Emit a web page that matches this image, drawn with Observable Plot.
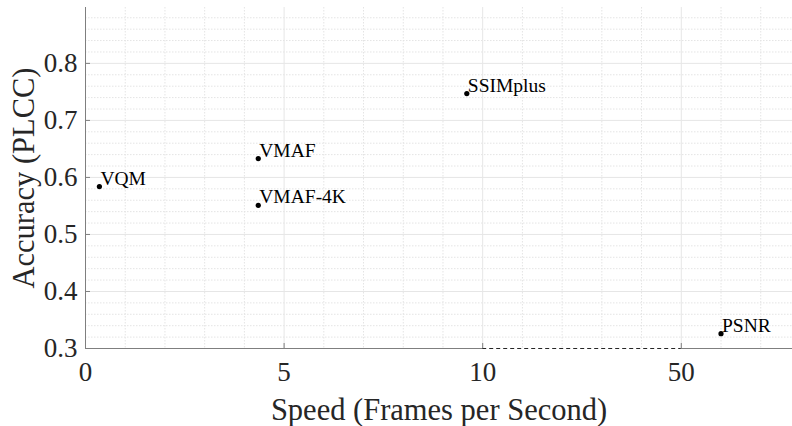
<!DOCTYPE html>
<html>
<head>
<meta charset="utf-8">
<script src="https://cdn.jsdelivr.net/npm/d3@7"></script>
<script src="https://cdn.jsdelivr.net/npm/@observablehq/plot@0.6"></script>
<style>
  html, body { margin: 0; padding: 0; background: #fff; }
  #chart svg { display: block; }
</style>
</head>
<body>
<div id="chart"></div>
<script>
// Data
const metrics  = ["VQM", "VMAF", "VMAF-4K", "SSIMplus", "PSNR"];
const speed    = [0.35, 4.35, 4.35, 9.6, 58];
const accuracy = [0.584, 0.633, 0.551, 0.747, 0.326];

const xTickValues = [0, 5, 10, 50];
const yTickValues = [0.3, 0.4, 0.5, 0.6, 0.7, 0.8];

// Broken x axis: linear up to 10, then compressed 8:1 beyond the break
const BREAK = 10, COMPRESS = 8;
const brk = v => v <= BREAK ? v : BREAK + (v - BREAK) / COMPRESS;

const points = metrics.map((m, i) => ({name: m, x: brk(speed[i]), y: accuracy[i]}));

const X_MAX = 17.8, Y_MIN = 0.3, Y_MAX = 0.898;
const majorX = xTickValues.map(brk).filter(v => v > 0);
const minorX = d3.range(1, 18).filter(v => !majorX.includes(v) && v < X_MAX);
const minorY = d3.range(0.32, 0.89, 0.02).map(v => +v.toFixed(2)).filter(v => !yTickValues.some(t => Math.abs(t - v) < 1e-6));

// Axis segments along the bottom (solid, dashed across the break, solid)
const segs = [
  {x1: 0, x2: brk(BREAK), dash: false},
  {x1: brk(BREAK), x2: brk(50), dash: true},
  {x1: brk(50), x2: X_MAX, dash: false}
];

const font = "'Liberation Serif', 'Times New Roman', serif";
const axisColor = "#7f7f7f";

const chart = Plot.plot({
  width: 792,
  height: 426,
  marginLeft: 85,
  marginRight: 0,
  marginTop: 7,
  marginBottom: 78,
  style: {fontFamily: font, color: "#262626", background: "#fff"},
  x: {domain: [0, X_MAX]},
  y: {domain: [Y_MIN, Y_MAX]},
  marks: [
    // minor grid
    Plot.ruleX(minorX, {stroke: "#e4e4e4", strokeDasharray: "1.5,1.5", strokeWidth: 1}),
    Plot.ruleY(minorY, {stroke: "#e4e4e4", strokeDasharray: "1.5,1.5", strokeWidth: 1}),
    // major grid
    Plot.ruleX(majorX, {stroke: "#e6e6e6", strokeWidth: 1}),
    Plot.ruleY(yTickValues.filter(v => v > Y_MIN), {stroke: "#e6e6e6", strokeWidth: 1}),
    // left axis line
    Plot.ruleX([0], {stroke: axisColor, strokeWidth: 1}),
    // bottom axis line with break
    Plot.ruleY(segs.filter(s => !s.dash), {x1: "x1", x2: "x2", y: Y_MIN, stroke: axisColor, strokeWidth: 1}),
    Plot.ruleY(segs.filter(s => s.dash), {x1: "x1", x2: "x2", y: Y_MIN, stroke: "#262626", strokeWidth: 1.2, strokeDasharray: "4,3"}),
    // axes
    Plot.axisY(yTickValues, {
      tickSize: -5, tickPadding: 13, fontSize: 27, stroke: axisColor,
      tickFormat: d => d.toFixed(1), label: null
    }),
    Plot.axisX(xTickValues.map(brk), {
      tickSize: -5, tickPadding: 18, fontSize: 27, stroke: axisColor,
      tickFormat: d => String(xTickValues[xTickValues.map(brk).indexOf(d)]), label: null
    }),
    // axis titles
    Plot.text(["Speed (Frames per Second)"], {frameAnchor: "bottom", dy: 62, fontSize: 30.5, fill: "#262626", textAnchor: "middle", lineAnchor: "middle"}),
    Plot.text(["Accuracy (PLCC)"], {frameAnchor: "left", dx: -61, rotate: -90, fontSize: 30.5, fill: "#262626", textAnchor: "middle", lineAnchor: "middle"}),
    // points and labels
    Plot.dot(points, {x: "x", y: "y", r: 2.6, fill: "#000", stroke: null}),
    Plot.text(points, {x: "x", y: "y", text: "name", textAnchor: "start", lineAnchor: "bottom", dx: 1, dy: -2, fontSize: 19.5, fill: "#000"})
  ]
});
document.getElementById("chart").appendChild(chart);
</script>
</body>
</html>
